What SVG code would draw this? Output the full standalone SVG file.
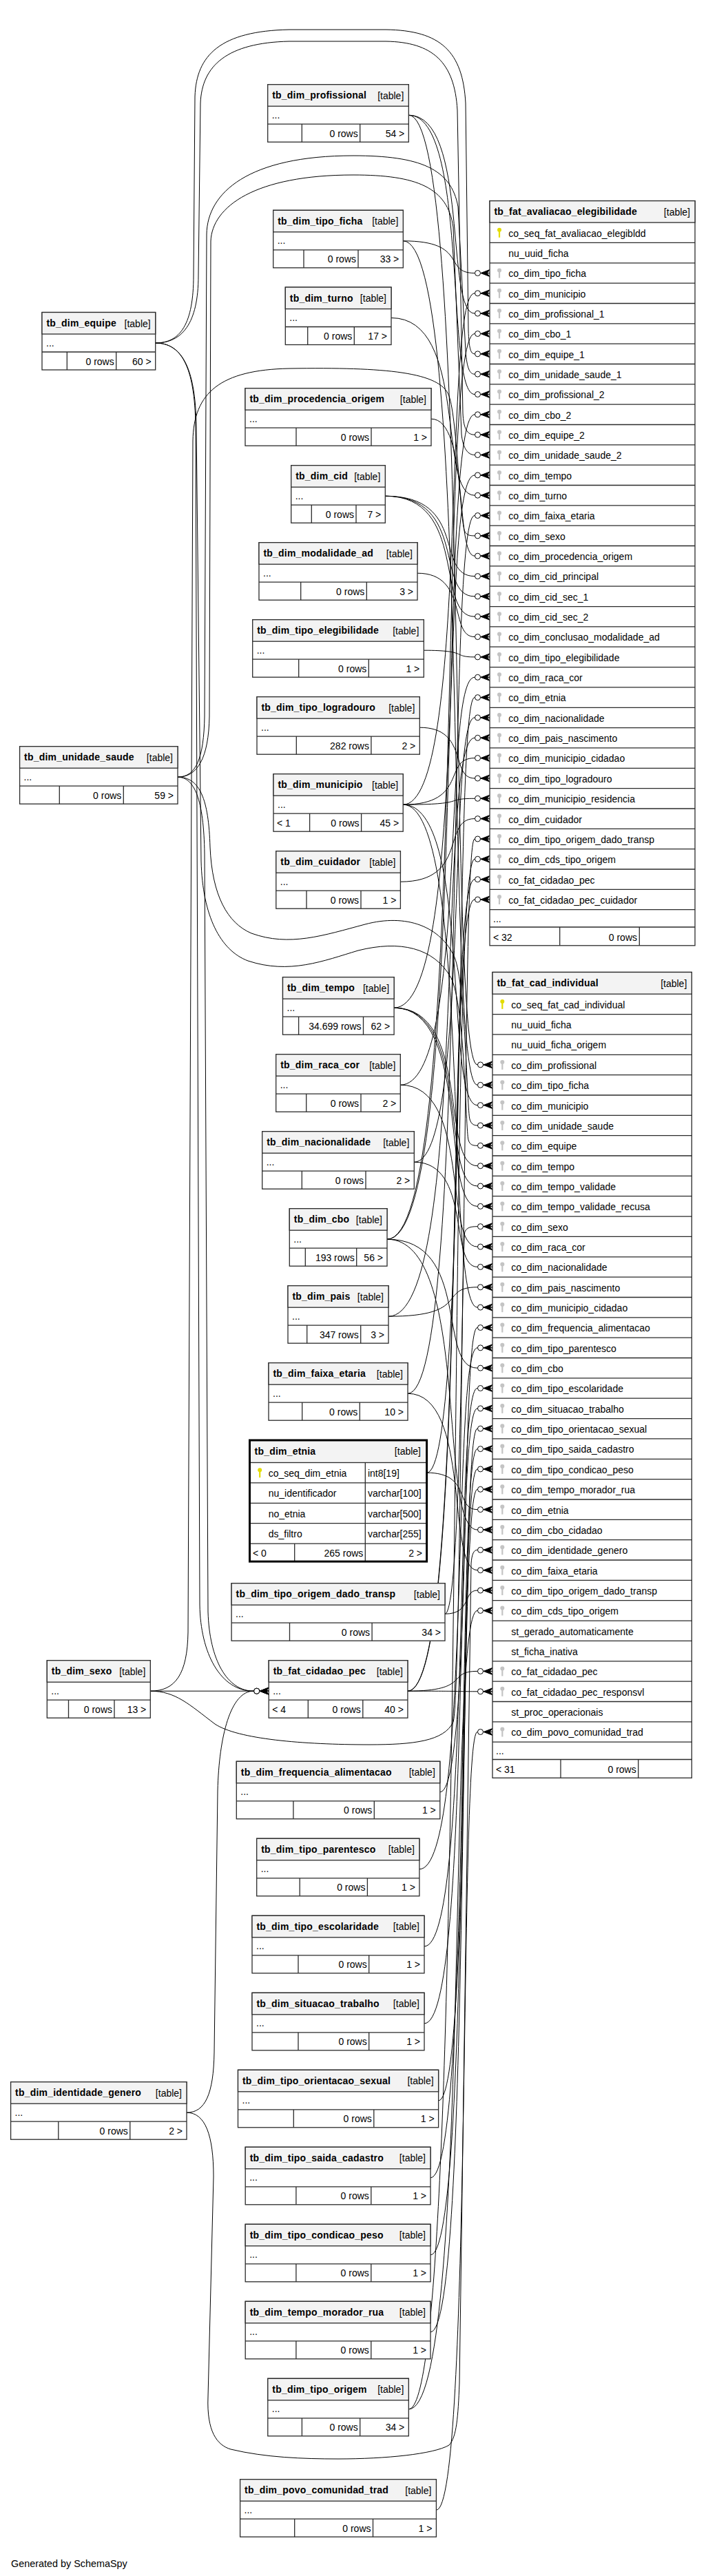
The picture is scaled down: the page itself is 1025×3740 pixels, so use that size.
<svg xmlns="http://www.w3.org/2000/svg" width="1025" height="3740" viewBox="0 0 1025 3740">
<style>
.b{fill:#fff;stroke:#2b2b2b;stroke-width:1.3}
.hd{fill:#f3f3f3;stroke:#2b2b2b;stroke-width:1.3}
.ln{fill:none;stroke:#2b2b2b;stroke-width:1.3}
.bold{fill:none;stroke:#000;stroke-width:3}
.h{font-family:"Liberation Sans",Arial,sans-serif;font-size:14px;font-weight:bold;letter-spacing:0.2px;fill:#000}
.t{font-family:"Liberation Sans",Arial,sans-serif;font-size:14px;fill:#000}
.e{text-anchor:end}
#connectors path{fill:none;stroke:#000;stroke-width:1;marker-end:url(#crow)}
</style>
<defs>
<marker id="crow" markerUnits="userSpaceOnUse" viewBox="-25 -10 30 20" markerWidth="30" markerHeight="20" refX="0" refY="0" orient="auto">
<path d="M-13 0L0 -5L-4 0L0 5ZM-13 0H0" fill="#000" stroke="#000" stroke-width="1"/>
<circle cx="-17.5" cy="0" r="4" fill="#fff" stroke="#000" stroke-width="1"/>
</marker>
<g id="kp"><circle cx="0" cy="-4" r="3" fill="#e3dc00"/><rect x="-1.1" y="-2" width="2.2" height="9" fill="#e3dc00"/></g>
<g id="kf"><circle cx="0" cy="-4" r="3" fill="#c4c4c4"/><rect x="-1.1" y="-2" width="2.2" height="9" fill="#c4c4c4"/></g>
</defs>
<rect width="1025" height="3740" fill="#fff"/>

<g id="connectors">
<!-- to tb_fat_avaliacao_elegibilidade -->
<path d="M585.3 349.8C681 349.8 642.3 396.5 689 396.5L711 396.5"/>
<path d="M585.2 1168.2C681 1168.2 642.3 425.8 689 425.8L711 425.8"/>
<path d="M593.3 167.2C681 167.2 645.9 455.1 689 455.1L711 455.1"/>
<path d="M562 1799.2C681 1799.2 631.8 484.5 689 484.5L711 484.5"/>
<path d="M225.7 498C262 498 281 470 281 400L283 140C285 80 320 45 420 43L560 43C640 44 672 75 676 150L680 480C681 505 683 513.8 689 513.8L711 513.8"/>
<path d="M258 1128.2C285 1128.2 296 1100 297 1040L300 340C301 280 360 226 513 226C610 226 655 245 665 300L676 510C678 535 682 543.2 689 543.2L711 543.2"/>
<path d="M593.3 167.2C681 167.2 645.9 572.5 689 572.5L711 572.5"/>
<path d="M562 1799.2C681 1799.2 631.8 601.8 689 601.8L711 601.8"/>
<path d="M225.7 498C264 498 288 470 288 400L291 150C293 95 330 62 420 60L560 60C628 61 660 90 664 160L672 600C673 622 678 631.2 689 631.2L711 631.2"/>
<path d="M258 1128.2C287 1128.2 303 1100 304 1040L306 350C308 300 370 254 513 254C605 254 650 272 658 330L670 630C672 652 680 660.5 689 660.5L711 660.5"/>
<path d="M572.1 1463.2C681 1463.2 636.4 689.9 689 689.9L711 689.9"/>
<path d="M568 461.5C681 461.5 634.5 719.2 689 719.2L711 719.2"/>
<path d="M592 2023.2C681 2023.2 645.3 748.5 689 748.5L711 748.5"/>
<path d="M218.3 2455.2C255 2455.2 272 2430 273 2370L280 640C281 570 320 537 420 535C560 533 640 540 652 575C664 610 668 760 675 772C678 777 682 777.9 689 777.9L711 777.9"/>
<path d="M626 608.2C681 608.2 660.6 807.2 689 807.2L711 807.2"/>
<path d="M559.3 720.2C681 720.2 630.6 836.6 689 836.6L711 836.6"/>
<path d="M559.3 720.2C681 720.2 630.6 865.9 689 865.9L711 865.9"/>
<path d="M559.3 720.2C681 720.2 630.6 895.2 689 895.2L711 895.2"/>
<path d="M606 832.2C681 832.2 651.6 924.6 689 924.6L711 924.6"/>
<path d="M615.3 944.2C681 944.2 655.8 953.9 689 953.9L711 953.9"/>
<path d="M581.3 1575.2C681 1575.2 640.5 983.3 689 983.3L711 983.3"/>
<path d="M619.6 2138.2C681 2138.2 657.8 1012.6 689 1012.6L711 1012.6"/>
<path d="M601.3 1687.2C681 1687.2 649.5 1041.9 689 1041.9L711 1041.9"/>
<path d="M564 1911.2C681 1911.2 632.7 1071.3 689 1071.3L711 1071.3"/>
<path d="M585.2 1168.2C681 1168.2 642.3 1100.6 689 1100.6L711 1100.6"/>
<path d="M609.3 1056.2C681 1056.2 653.1 1130 689 1130L711 1130"/>
<path d="M585.2 1168.2C681 1168.2 642.3 1159.3 689 1159.3L711 1159.3"/>
<path d="M581.4 1280.2C681 1280.2 640.6 1188.6 689 1188.6L711 1188.6"/>
<path d="M646 2343.2C681 2343.2 669.6 1218 689 1218L711 1218"/>
<path d="M593.3 3497.8C681 3497.8 645.9 1247.3 689 1247.3L711 1247.3"/>
<path d="M591.9 2455.2C681 2455.2 645.3 1276.7 689 1276.7L711 1276.7"/>
<path d="M591.9 2455.2C681 2455.2 645.3 1306 689 1306L711 1306"/>
<!-- to tb_fat_cad_individual -->
<path d="M593.3 167.2C685 167.2 648.1 1545.9 693 1545.9L715 1545.9"/>
<path d="M585.3 349.8C685 349.8 644.5 1575.3 693 1575.3L715 1575.3"/>
<path d="M585.2 1168.2C685 1168.2 644.5 1604.6 693 1604.6L715 1604.6"/>
<path d="M258 1128.2C290 1128.2 303 1160 305 1230C308 1300 330 1340 365 1355C420 1375 470 1358 530 1342C590 1326 640 1345 660 1390C676 1430 678 1610 682 1625C684 1632 688 1634 693 1634L715 1634"/>
<path d="M225.7 498C262 498 284 530 285 620L292 1250C294 1330 320 1380 360 1395C420 1415 470 1395 520 1380C580 1365 630 1375 655 1420C675 1460 676 1640 680 1655C682 1662 686 1663.3 693 1663.3L715 1663.3"/>
<path d="M572.1 1463.2C685 1463.2 638.6 1692.7 693 1692.7L715 1692.7"/>
<path d="M572.1 1463.2C685 1463.2 638.6 1722 693 1722L715 1722"/>
<path d="M572.1 1463.2C685 1463.2 638.6 1751.4 693 1751.4L715 1751.4"/>
<path d="M218.3 2455.2C255 2455.2 275 2475 312 2503C345 2525 440 2533 536 2533C600 2533 645 2528 658 2500C668 2470 670 1800 675 1788C678 1782 684 1780.7 693 1780.7L715 1780.7"/>
<path d="M581.3 1575.2C685 1575.2 642.7 1810.1 693 1810.1L715 1810.1"/>
<path d="M601.3 1687.2C685 1687.2 651.7 1839.4 693 1839.4L715 1839.4"/>
<path d="M564 1911.2C685 1911.2 635 1868.8 693 1868.8L715 1868.8"/>
<path d="M585.2 1168.2C685 1168.2 644.5 1898.1 693 1898.1L715 1898.1"/>
<path d="M638.8 2601.8C685 2601.8 668.6 1927.5 693 1927.5L715 1927.5"/>
<path d="M608.9 2713.8C685 2713.8 655.2 1956.8 693 1956.8L715 1956.8"/>
<path d="M562 1799.2C685 1799.2 634 1986.2 693 1986.2L715 1986.2"/>
<path d="M616 2825.8C685 2825.8 658.3 2015.5 693 2015.5L715 2015.5"/>
<path d="M616 2937.8C685 2937.8 658.3 2044.9 693 2044.9L715 2044.9"/>
<path d="M636.6 3049.8C685 3049.8 667.6 2074.2 693 2074.2L715 2074.2"/>
<path d="M625 3161.8C685 3161.8 662.4 2103.6 693 2103.6L715 2103.6"/>
<path d="M625 3273.8C685 3273.8 662.4 2132.9 693 2132.9L715 2132.9"/>
<path d="M625 3385.8C685 3385.8 662.4 2162.3 693 2162.3L715 2162.3"/>
<path d="M619.6 2138.2C685 2138.2 660 2191.6 693 2191.6L715 2191.6"/>
<path d="M562 1799.2C685 1799.2 634 2221 693 2221L715 2221"/>
<path d="M271 3067.2C298 3067.2 310 3100 310 3160L302 3480C300 3530 315 3550 335 3556C385 3568 440 3570 491 3570C560 3570 630 3563 652 3550C663 3538 665 3510 667 3460L684 2270C685 2256 688 2250.3 693 2250.3L715 2250.3"/>
<path d="M592 2023.2C685 2023.2 647.5 2279.7 693 2279.7L715 2279.7"/>
<path d="M646 2343.2C685 2343.2 671.8 2309 693 2309L715 2309"/>
<path d="M593.3 3497.8C685 3497.8 648.1 2338.4 693 2338.4L715 2338.4"/>
<path d="M591.9 2455.2C685 2455.2 647.5 2426.4 693 2426.4L715 2426.4"/>
<path d="M591.9 2455.2C685 2455.2 647.5 2455.8 693 2455.8L715 2455.8"/>
<path d="M633.4 3644.2C685 3644.2 666.2 2514.5 693 2514.5L715 2514.5"/>
<!-- to tb_fat_cidadao_pec -->
<path d="M218.3 2455.2L390.2 2455.2"/>
<path d="M225.7 498C262 498 283 530 284 620L290 2330C291 2400 320 2455.2 368 2455.2L390.2 2455.2"/>
<path d="M258 1128.2C282 1128.2 296 1160 297 1240L302 2340C304 2410 330 2455.2 368 2455.2L390.2 2455.2"/>
<path d="M271 3067.2C298 3067.2 310 3040 311 2980L316 2600C318 2520 335 2455.2 368 2455.2L390.2 2455.2"/>
</g>

<g id="tb_dim_profissional"><rect class="b" x="388.7" y="122.7" width="204.6" height="83.5"/><rect class="hd" x="388.7" y="122.7" width="204.6" height="31.5"/><path class="ln" d="M388.7 180.2H593.3M438.3 180.2V206.2M522.7 180.2V206.2"/><text class="h" x="395.2" y="143.2">tb_dim_profissional</text><text class="t e" x="586.3" y="143.7">[table]</text><text class="t" x="394.7" y="171.7">...</text><text class="t e" x="519.7" y="198.7">0 rows</text><text class="t e" x="587.3" y="198.7">54 &gt;</text></g>

<g id="tb_dim_tipo_ficha"><rect class="b" x="396.7" y="305.3" width="188.6" height="83.5"/><rect class="hd" x="396.7" y="305.3" width="188.6" height="31.5"/><path class="ln" d="M396.7 362.8H585.3M441 362.8V388.8M520 362.8V388.8"/><text class="h" x="403.2" y="325.8">tb_dim_tipo_ficha</text><text class="t e" x="578.3" y="326.3">[table]</text><text class="t" x="402.7" y="354.3">...</text><text class="t e" x="517" y="381.3">0 rows</text><text class="t e" x="579.3" y="381.3">33 &gt;</text></g>

<g id="tb_dim_turno"><rect class="b" x="414.3" y="417" width="153.7" height="83.5"/><rect class="hd" x="414.3" y="417" width="153.7" height="31.5"/><path class="ln" d="M414.3 474.5H568M446.7 474.5V500.5M514.3 474.5V500.5"/><text class="h" x="420.8" y="437.5">tb_dim_turno</text><text class="t e" x="561" y="438">[table]</text><text class="t" x="420.3" y="466">...</text><text class="t e" x="511.3" y="493">0 rows</text><text class="t e" x="562" y="493">17 &gt;</text></g>

<g id="tb_dim_equipe"><rect class="b" x="61" y="453.5" width="164.7" height="83.5"/><rect class="hd" x="61" y="453.5" width="164.7" height="31.5"/><path class="ln" d="M61 511H225.7M97.3 511V537M168.7 511V537"/><text class="h" x="67.5" y="474">tb_dim_equipe</text><text class="t e" x="218.7" y="474.5">[table]</text><text class="t" x="67" y="502.5">...</text><text class="t e" x="165.7" y="529.5">0 rows</text><text class="t e" x="219.7" y="529.5">60 &gt;</text></g>

<g id="tb_dim_procedencia_origem"><rect class="b" x="356" y="563.7" width="270" height="83.5"/><rect class="hd" x="356" y="563.7" width="270" height="31.5"/><path class="ln" d="M356 621.2H626M430 621.2V647.2M539 621.2V647.2"/><text class="h" x="362.5" y="584.2">tb_dim_procedencia_origem</text><text class="t e" x="619" y="584.7">[table]</text><text class="t" x="362" y="612.7">...</text><text class="t e" x="536" y="639.7">0 rows</text><text class="t e" x="620" y="639.7">1 &gt;</text></g>

<g id="tb_dim_cid"><rect class="b" x="422.7" y="675.7" width="136.6" height="83.5"/><rect class="hd" x="422.7" y="675.7" width="136.6" height="31.5"/><path class="ln" d="M422.7 733.2H559.3M452.3 733.2V759.2M517 733.2V759.2"/><text class="h" x="429.2" y="696.2">tb_dim_cid</text><text class="t e" x="552.3" y="696.7">[table]</text><text class="t" x="428.7" y="724.7">...</text><text class="t e" x="514" y="751.7">0 rows</text><text class="t e" x="553.3" y="751.7">7 &gt;</text></g>

<g id="tb_dim_modalidade_ad"><rect class="b" x="376" y="787.7" width="230" height="83.5"/><rect class="hd" x="376" y="787.7" width="230" height="31.5"/><path class="ln" d="M376 845.2H606M436.7 845.2V871.2M532.3 845.2V871.2"/><text class="h" x="382.5" y="808.2">tb_dim_modalidade_ad</text><text class="t e" x="599" y="808.7">[table]</text><text class="t" x="382" y="836.7">...</text><text class="t e" x="529.3" y="863.7">0 rows</text><text class="t e" x="600" y="863.7">3 &gt;</text></g>

<g id="tb_dim_tipo_elegibilidade"><rect class="b" x="366.7" y="899.7" width="248.6" height="83.5"/><rect class="hd" x="366.7" y="899.7" width="248.6" height="31.5"/><path class="ln" d="M366.7 957.2H615.3M433.7 957.2V983.2M535.3 957.2V983.2"/><text class="h" x="373.2" y="920.2">tb_dim_tipo_elegibilidade</text><text class="t e" x="608.3" y="920.7">[table]</text><text class="t" x="372.7" y="948.7">...</text><text class="t e" x="532.3" y="975.7">0 rows</text><text class="t e" x="609.3" y="975.7">1 &gt;</text></g>

<g id="tb_dim_tipo_logradouro"><rect class="b" x="373" y="1011.7" width="236.3" height="83.5"/><rect class="hd" x="373" y="1011.7" width="236.3" height="31.5"/><path class="ln" d="M373 1069.2H609.3M430.3 1069.2V1095.2M538.9 1069.2V1095.2"/><text class="h" x="379.5" y="1032.2">tb_dim_tipo_logradouro</text><text class="t e" x="602.3" y="1032.7">[table]</text><text class="t" x="379" y="1060.7">...</text><text class="t e" x="535.9" y="1087.7">282 rows</text><text class="t e" x="603.3" y="1087.7">2 &gt;</text></g>

<g id="tb_dim_unidade_saude"><rect class="b" x="28.6" y="1083.7" width="229.4" height="83.5"/><rect class="hd" x="28.6" y="1083.7" width="229.4" height="31.5"/><path class="ln" d="M28.6 1141.2H258M86.3 1141.2V1167.2M179.3 1141.2V1167.2"/><text class="h" x="35.1" y="1104.2">tb_dim_unidade_saude</text><text class="t e" x="251" y="1104.7">[table]</text><text class="t" x="34.6" y="1132.7">...</text><text class="t e" x="176.3" y="1159.7">0 rows</text><text class="t e" x="252" y="1159.7">59 &gt;</text></g>

<g id="tb_dim_municipio"><rect class="b" x="397" y="1123.7" width="188.2" height="83.5"/><rect class="hd" x="397" y="1123.7" width="188.2" height="31.5"/><path class="ln" d="M397 1181.2H585.2M449.6 1181.2V1207.2M524.6 1181.2V1207.2"/><text class="h" x="403.5" y="1144.2">tb_dim_municipio</text><text class="t e" x="578.2" y="1144.7">[table]</text><text class="t" x="403" y="1172.7">...</text><text class="t" x="402" y="1199.7">&lt; 1</text><text class="t e" x="521.6" y="1199.7">0 rows</text><text class="t e" x="579.2" y="1199.7">45 &gt;</text></g>

<g id="tb_dim_cuidador"><rect class="b" x="400.8" y="1235.7" width="180.6" height="83.5"/><rect class="hd" x="400.8" y="1235.7" width="180.6" height="31.5"/><path class="ln" d="M400.8 1293.2H581.4M445 1293.2V1319.2M524 1293.2V1319.2"/><text class="h" x="407.3" y="1256.2">tb_dim_cuidador</text><text class="t e" x="574.4" y="1256.7">[table]</text><text class="t" x="406.8" y="1284.7">...</text><text class="t e" x="521" y="1311.7">0 rows</text><text class="t e" x="575.4" y="1311.7">1 &gt;</text></g>

<g id="tb_dim_tempo"><rect class="b" x="410.5" y="1418.7" width="161.6" height="83.5"/><rect class="hd" x="410.5" y="1418.7" width="161.6" height="31.5"/><path class="ln" d="M410.5 1476.2H572.1M433.6 1476.2V1502.2M527.5 1476.2V1502.2"/><text class="h" x="417" y="1439.2">tb_dim_tempo</text><text class="t e" x="565.1" y="1439.7">[table]</text><text class="t" x="416.5" y="1467.7">...</text><text class="t e" x="524.5" y="1494.7">34.699 rows</text><text class="t e" x="566.1" y="1494.7">62 &gt;</text></g>

<g id="tb_dim_raca_cor"><rect class="b" x="400.7" y="1530.7" width="180.6" height="83.5"/><rect class="hd" x="400.7" y="1530.7" width="180.6" height="31.5"/><path class="ln" d="M400.7 1588.2H581.3M444.7 1588.2V1614.2M524 1588.2V1614.2"/><text class="h" x="407.2" y="1551.2">tb_dim_raca_cor</text><text class="t e" x="574.3" y="1551.7">[table]</text><text class="t" x="406.7" y="1579.7">...</text><text class="t e" x="521" y="1606.7">0 rows</text><text class="t e" x="575.3" y="1606.7">2 &gt;</text></g>

<g id="tb_dim_nacionalidade"><rect class="b" x="380.7" y="1642.7" width="220.6" height="83.5"/><rect class="hd" x="380.7" y="1642.7" width="220.6" height="31.5"/><path class="ln" d="M380.7 1700.2H601.3M438.3 1700.2V1726.2M531 1700.2V1726.2"/><text class="h" x="387.2" y="1663.2">tb_dim_nacionalidade</text><text class="t e" x="594.3" y="1663.7">[table]</text><text class="t" x="386.7" y="1691.7">...</text><text class="t e" x="528" y="1718.7">0 rows</text><text class="t e" x="595.3" y="1718.7">2 &gt;</text></g>

<g id="tb_dim_cbo"><rect class="b" x="420.3" y="1754.7" width="141.7" height="83.5"/><rect class="hd" x="420.3" y="1754.7" width="141.7" height="31.5"/><path class="ln" d="M420.3 1812.2H562M443.3 1812.2V1838.2M517.7 1812.2V1838.2"/><text class="h" x="426.8" y="1775.2">tb_dim_cbo</text><text class="t e" x="555" y="1775.7">[table]</text><text class="t" x="426.3" y="1803.7">...</text><text class="t e" x="514.7" y="1830.7">193 rows</text><text class="t e" x="556" y="1830.7">56 &gt;</text></g>

<g id="tb_dim_pais"><rect class="b" x="418" y="1866.7" width="146" height="83.5"/><rect class="hd" x="418" y="1866.7" width="146" height="31.5"/><path class="ln" d="M418 1924.2H564M445.7 1924.2V1950.2M523.7 1924.2V1950.2"/><text class="h" x="424.5" y="1887.2">tb_dim_pais</text><text class="t e" x="557" y="1887.7">[table]</text><text class="t" x="424" y="1915.7">...</text><text class="t e" x="520.7" y="1942.7">347 rows</text><text class="t e" x="558" y="1942.7">3 &gt;</text></g>

<g id="tb_dim_faixa_etaria"><rect class="b" x="390" y="1978.7" width="202" height="83.5"/><rect class="hd" x="390" y="1978.7" width="202" height="31.5"/><path class="ln" d="M390 2036.2H592M438.7 2036.2V2062.2M522.3 2036.2V2062.2"/><text class="h" x="396.5" y="1999.2">tb_dim_faixa_etaria</text><text class="t e" x="585" y="1999.7">[table]</text><text class="t" x="396" y="2027.7">...</text><text class="t e" x="519.3" y="2054.7">0 rows</text><text class="t e" x="586" y="2054.7">10 &gt;</text></g>

<g id="tb_dim_etnia"><rect class="b" x="362.5" y="2091" width="257.1" height="176.1"/><rect class="hd" x="362.5" y="2091" width="257.1" height="32.5"/><path class="ln" d="M362.5 2152.9H619.6M362.5 2182.3H619.6M362.5 2211.7H619.6M362.5 2241.1H619.6M530.3 2123.5V2267.1M427.7 2241.1V2267.1"/><rect class="bold" x="362.5" y="2091" width="257.1" height="176.1"/><text class="h" x="369.6" y="2111.5">tb_dim_etnia</text><text class="t e" x="611" y="2112">[table]</text><use href="#kp" x="377.2" y="2138.2"/><text class="t" x="389.7" y="2144">co_seq_dim_etnia</text><text class="t" x="533.9" y="2144">int8[19]</text><text class="t" x="389.7" y="2173.4">nu_identificador</text><text class="t" x="533.9" y="2173.4">varchar[100]</text><text class="t" x="389.7" y="2202.8">no_etnia</text><text class="t" x="533.9" y="2202.8">varchar[500]</text><text class="t" x="389.7" y="2232.2">ds_filtro</text><text class="t" x="533.9" y="2232.2">varchar[255]</text><text class="t" x="367" y="2260">&lt; 0</text><text class="t e" x="527.3" y="2260">265 rows</text><text class="t e" x="613" y="2260">2 &gt;</text></g>

<g id="tb_dim_tipo_origem_dado_transp"><rect class="b" x="336.1" y="2298.7" width="309.9" height="83.5"/><rect class="hd" x="336.1" y="2298.7" width="309.9" height="31.5"/><path class="ln" d="M336.1 2356.2H646M420.5 2356.2V2382.2M540.1 2356.2V2382.2"/><text class="h" x="342.6" y="2319.2">tb_dim_tipo_origem_dado_transp</text><text class="t e" x="639" y="2319.7">[table]</text><text class="t" x="342.1" y="2347.7">...</text><text class="t e" x="537.1" y="2374.7">0 rows</text><text class="t e" x="640" y="2374.7">34 &gt;</text></g>

<g id="tb_dim_sexo"><rect class="b" x="68.3" y="2410.7" width="150" height="83.5"/><rect class="hd" x="68.3" y="2410.7" width="150" height="31.5"/><path class="ln" d="M68.3 2468.2H218.3M99.5 2468.2V2494.2M166 2468.2V2494.2"/><text class="h" x="74.8" y="2431.2">tb_dim_sexo</text><text class="t e" x="211.3" y="2431.7">[table]</text><text class="t" x="74.3" y="2459.7">...</text><text class="t e" x="163" y="2486.7">0 rows</text><text class="t e" x="212.3" y="2486.7">13 &gt;</text></g>

<g id="tb_fat_cidadao_pec"><rect class="b" x="390.2" y="2410.7" width="201.7" height="83.5"/><rect class="hd" x="390.2" y="2410.7" width="201.7" height="31.5"/><path class="ln" d="M390.2 2468.2H591.9M447.3 2468.2V2494.2M526.8 2468.2V2494.2"/><text class="h" x="396.7" y="2431.2">tb_fat_cidadao_pec</text><text class="t e" x="584.9" y="2431.7">[table]</text><text class="t" x="396.2" y="2459.7">...</text><text class="t" x="395.2" y="2486.7">&lt; 4</text><text class="t e" x="523.8" y="2486.7">0 rows</text><text class="t e" x="585.9" y="2486.7">40 &gt;</text></g>

<g id="tb_dim_frequencia_alimentacao"><rect class="b" x="343.3" y="2557.3" width="295.5" height="83.5"/><rect class="hd" x="343.3" y="2557.3" width="295.5" height="31.5"/><path class="ln" d="M343.3 2614.8H638.8M425.9 2614.8V2640.8M543.3 2614.8V2640.8"/><text class="h" x="349.8" y="2577.8">tb_dim_frequencia_alimentacao</text><text class="t e" x="631.8" y="2578.3">[table]</text><text class="t" x="349.3" y="2606.3">...</text><text class="t e" x="540.3" y="2633.3">0 rows</text><text class="t e" x="632.8" y="2633.3">1 &gt;</text></g>

<g id="tb_dim_tipo_parentesco"><rect class="b" x="372.7" y="2669.3" width="236.2" height="83.5"/><rect class="hd" x="372.7" y="2669.3" width="236.2" height="31.5"/><path class="ln" d="M372.7 2726.8H608.9M435.2 2726.8V2752.8M533.4 2726.8V2752.8"/><text class="h" x="379.2" y="2689.8">tb_dim_tipo_parentesco</text><text class="t e" x="601.9" y="2690.3">[table]</text><text class="t" x="378.7" y="2718.3">...</text><text class="t e" x="530.4" y="2745.3">0 rows</text><text class="t e" x="602.9" y="2745.3">1 &gt;</text></g>

<g id="tb_dim_tipo_escolaridade"><rect class="b" x="366" y="2781.3" width="250" height="83.5"/><rect class="hd" x="366" y="2781.3" width="250" height="31.5"/><path class="ln" d="M366 2838.8H616M433 2838.8V2864.8M535.7 2838.8V2864.8"/><text class="h" x="372.5" y="2801.8">tb_dim_tipo_escolaridade</text><text class="t e" x="609" y="2802.3">[table]</text><text class="t" x="372" y="2830.3">...</text><text class="t e" x="532.7" y="2857.3">0 rows</text><text class="t e" x="610" y="2857.3">1 &gt;</text></g>

<g id="tb_dim_situacao_trabalho"><rect class="b" x="366" y="2893.3" width="250" height="83.5"/><rect class="hd" x="366" y="2893.3" width="250" height="31.5"/><path class="ln" d="M366 2950.8H616M433 2950.8V2976.8M535.7 2950.8V2976.8"/><text class="h" x="372.5" y="2913.8">tb_dim_situacao_trabalho</text><text class="t e" x="609" y="2914.3">[table]</text><text class="t" x="372" y="2942.3">...</text><text class="t e" x="532.7" y="2969.3">0 rows</text><text class="t e" x="610" y="2969.3">1 &gt;</text></g>

<g id="tb_dim_identidade_genero"><rect class="b" x="15.6" y="3022.7" width="255.4" height="83.5"/><rect class="hd" x="15.6" y="3022.7" width="255.4" height="31.5"/><path class="ln" d="M15.6 3080.2H271M84.8 3080.2V3106.2M188.8 3080.2V3106.2"/><text class="h" x="22.1" y="3043.2">tb_dim_identidade_genero</text><text class="t e" x="264" y="3043.7">[table]</text><text class="t" x="21.6" y="3071.7">...</text><text class="t e" x="185.8" y="3098.7">0 rows</text><text class="t e" x="265" y="3098.7">2 &gt;</text></g>

<g id="tb_dim_tipo_orientacao_sexual"><rect class="b" x="345.5" y="3005.3" width="291.1" height="83.5"/><rect class="hd" x="345.5" y="3005.3" width="291.1" height="31.5"/><path class="ln" d="M345.5 3062.8H636.6M426.3 3062.8V3088.8M542.8 3062.8V3088.8"/><text class="h" x="352" y="3025.8">tb_dim_tipo_orientacao_sexual</text><text class="t e" x="629.6" y="3026.3">[table]</text><text class="t" x="351.5" y="3054.3">...</text><text class="t e" x="539.8" y="3081.3">0 rows</text><text class="t e" x="630.6" y="3081.3">1 &gt;</text></g>

<g id="tb_dim_tipo_saida_cadastro"><rect class="b" x="356.2" y="3117.3" width="268.8" height="83.5"/><rect class="hd" x="356.2" y="3117.3" width="268.8" height="31.5"/><path class="ln" d="M356.2 3174.8H625M429.9 3174.8V3200.8M538.8 3174.8V3200.8"/><text class="h" x="362.7" y="3137.8">tb_dim_tipo_saida_cadastro</text><text class="t e" x="618" y="3138.3">[table]</text><text class="t" x="362.2" y="3166.3">...</text><text class="t e" x="535.8" y="3193.3">0 rows</text><text class="t e" x="619" y="3193.3">1 &gt;</text></g>

<g id="tb_dim_tipo_condicao_peso"><rect class="b" x="356.2" y="3229.3" width="268.8" height="83.5"/><rect class="hd" x="356.2" y="3229.3" width="268.8" height="31.5"/><path class="ln" d="M356.2 3286.8H625M429.9 3286.8V3312.8M538.8 3286.8V3312.8"/><text class="h" x="362.7" y="3249.8">tb_dim_tipo_condicao_peso</text><text class="t e" x="618" y="3250.3">[table]</text><text class="t" x="362.2" y="3278.3">...</text><text class="t e" x="535.8" y="3305.3">0 rows</text><text class="t e" x="619" y="3305.3">1 &gt;</text></g>

<g id="tb_dim_tempo_morador_rua"><rect class="b" x="356.2" y="3341.3" width="268.8" height="83.5"/><rect class="hd" x="356.2" y="3341.3" width="268.8" height="31.5"/><path class="ln" d="M356.2 3398.8H625M429.9 3398.8V3424.8M538.8 3398.8V3424.8"/><text class="h" x="362.7" y="3361.8">tb_dim_tempo_morador_rua</text><text class="t e" x="618" y="3362.3">[table]</text><text class="t" x="362.2" y="3390.3">...</text><text class="t e" x="535.8" y="3417.3">0 rows</text><text class="t e" x="619" y="3417.3">1 &gt;</text></g>

<g id="tb_dim_tipo_origem"><rect class="b" x="388.8" y="3453.3" width="204.5" height="83.5"/><rect class="hd" x="388.8" y="3453.3" width="204.5" height="31.5"/><path class="ln" d="M388.8 3510.8H593.3M438.4 3510.8V3536.8M522.7 3510.8V3536.8"/><text class="h" x="395.3" y="3473.8">tb_dim_tipo_origem</text><text class="t e" x="586.3" y="3474.3">[table]</text><text class="t" x="394.8" y="3502.3">...</text><text class="t e" x="519.7" y="3529.3">0 rows</text><text class="t e" x="587.3" y="3529.3">34 &gt;</text></g>

<g id="tb_dim_povo_comunidad_trad"><rect class="b" x="348.6" y="3599.7" width="284.8" height="83.5"/><rect class="hd" x="348.6" y="3599.7" width="284.8" height="31.5"/><path class="ln" d="M348.6 3657.2H633.4M427.7 3657.2V3683.2M541.5 3657.2V3683.2"/><text class="h" x="355.1" y="3620.2">tb_dim_povo_comunidad_trad</text><text class="t e" x="626.4" y="3620.7">[table]</text><text class="t" x="354.6" y="3648.7">...</text><text class="t e" x="538.5" y="3675.7">0 rows</text><text class="t e" x="627.4" y="3675.7">1 &gt;</text></g>

<g id="tb_fat_avaliacao_elegibilidade">
<rect class="b" x="711" y="291.6" width="298" height="1081.2"/>
<rect class="hd" x="711" y="291.6" width="298" height="31.5"/>
<path class="ln" d="M711 352.4H1009M711 381.8H1009M711 411.1H1009M711 440.5H1009M711 469.8H1009M711 499.1H1009M711 528.5H1009M711 557.8H1009M711 587.2H1009M711 616.5H1009M711 645.8H1009M711 675.2H1009M711 704.5H1009M711 733.9H1009M711 763.2H1009M711 792.5H1009M711 821.9H1009M711 851.2H1009M711 880.6H1009M711 909.9H1009M711 939.2H1009M711 968.6H1009M711 997.9H1009M711 1027.3H1009M711 1056.6H1009M711 1085.9H1009M711 1115.3H1009M711 1144.6H1009M711 1174H1009M711 1203.3H1009M711 1232.6H1009M711 1262H1009M711 1291.3H1009M711 1320.7H1009M711 1346H1009M812.7 1346V1372.8M928.3 1346V1372.8"/>
<text class="h" x="717.5" y="312">tb_fat_avaliacao_elegibilidade</text><text class="t e" x="1002" y="312.5">[table]</text>
<use href="#kp" x="725" y="337.8"/>
<use href="#kf" x="725" y="396.5"/><use href="#kf" x="725" y="425.8"/><use href="#kf" x="725" y="455.1"/><use href="#kf" x="725" y="484.5"/><use href="#kf" x="725" y="513.8"/><use href="#kf" x="725" y="543.2"/><use href="#kf" x="725" y="572.5"/><use href="#kf" x="725" y="601.8"/><use href="#kf" x="725" y="631.2"/><use href="#kf" x="725" y="660.5"/><use href="#kf" x="725" y="689.9"/><use href="#kf" x="725" y="719.2"/><use href="#kf" x="725" y="748.5"/><use href="#kf" x="725" y="777.9"/><use href="#kf" x="725" y="807.2"/><use href="#kf" x="725" y="836.6"/><use href="#kf" x="725" y="865.9"/><use href="#kf" x="725" y="895.2"/><use href="#kf" x="725" y="924.6"/><use href="#kf" x="725" y="953.9"/><use href="#kf" x="725" y="983.3"/><use href="#kf" x="725" y="1012.6"/><use href="#kf" x="725" y="1041.9"/><use href="#kf" x="725" y="1071.3"/><use href="#kf" x="725" y="1100.6"/><use href="#kf" x="725" y="1130"/><use href="#kf" x="725" y="1159.3"/><use href="#kf" x="725" y="1188.6"/><use href="#kf" x="725" y="1218"/><use href="#kf" x="725" y="1247.3"/><use href="#kf" x="725" y="1276.7"/><use href="#kf" x="725" y="1306"/>
<text class="t" x="738.3" y="343.6">co_seq_fat_avaliacao_elegibldd</text>
<text class="t" x="738.3" y="372.9">nu_uuid_ficha</text>
<text class="t" x="738.3" y="402.3">co_dim_tipo_ficha</text>
<text class="t" x="738.3" y="431.6">co_dim_municipio</text>
<text class="t" x="738.3" y="461">co_dim_profissional_1</text>
<text class="t" x="738.3" y="490.3">co_dim_cbo_1</text>
<text class="t" x="738.3" y="519.6">co_dim_equipe_1</text>
<text class="t" x="738.3" y="549">co_dim_unidade_saude_1</text>
<text class="t" x="738.3" y="578.3">co_dim_profissional_2</text>
<text class="t" x="738.3" y="607.7">co_dim_cbo_2</text>
<text class="t" x="738.3" y="637">co_dim_equipe_2</text>
<text class="t" x="738.3" y="666.3">co_dim_unidade_saude_2</text>
<text class="t" x="738.3" y="695.7">co_dim_tempo</text>
<text class="t" x="738.3" y="725">co_dim_turno</text>
<text class="t" x="738.3" y="754.4">co_dim_faixa_etaria</text>
<text class="t" x="738.3" y="783.7">co_dim_sexo</text>
<text class="t" x="738.3" y="813">co_dim_procedencia_origem</text>
<text class="t" x="738.3" y="842.4">co_dim_cid_principal</text>
<text class="t" x="738.3" y="871.7">co_dim_cid_sec_1</text>
<text class="t" x="738.3" y="901.1">co_dim_cid_sec_2</text>
<text class="t" x="738.3" y="930.4">co_dim_conclusao_modalidade_ad</text>
<text class="t" x="738.3" y="959.7">co_dim_tipo_elegibilidade</text>
<text class="t" x="738.3" y="989.1">co_dim_raca_cor</text>
<text class="t" x="738.3" y="1018.4">co_dim_etnia</text>
<text class="t" x="738.3" y="1047.8">co_dim_nacionalidade</text>
<text class="t" x="738.3" y="1077.1">co_dim_pais_nascimento</text>
<text class="t" x="738.3" y="1106.4">co_dim_municipio_cidadao</text>
<text class="t" x="738.3" y="1135.8">co_dim_tipo_logradouro</text>
<text class="t" x="738.3" y="1165.1">co_dim_municipio_residencia</text>
<text class="t" x="738.3" y="1194.5">co_dim_cuidador</text>
<text class="t" x="738.3" y="1223.8">co_dim_tipo_origem_dado_transp</text>
<text class="t" x="738.3" y="1253.1">co_dim_cds_tipo_origem</text>
<text class="t" x="738.3" y="1282.5">co_fat_cidadao_pec</text>
<text class="t" x="738.3" y="1311.8">co_fat_cidadao_pec_cuidador</text>
<text class="t" x="716" y="1339">...</text>
<text class="t" x="716" y="1366">&lt; 32</text>
<text class="t e" x="925" y="1366">0 rows</text>
</g>

<g id="tb_fat_cad_individual">
<rect class="b" x="715" y="1411.5" width="289.3" height="1169.8"/>
<rect class="hd" x="715" y="1411.5" width="289.3" height="31.7"/>
<path class="ln" d="M715 1472.6H1004.3M715 1501.9H1004.3M715 1531.3H1004.3M715 1560.6H1004.3M715 1590H1004.3M715 1619.3H1004.3M715 1648.7H1004.3M715 1678H1004.3M715 1707.4H1004.3M715 1736.7H1004.3M715 1766.1H1004.3M715 1795.4H1004.3M715 1824.8H1004.3M715 1854.1H1004.3M715 1883.5H1004.3M715 1912.8H1004.3M715 1942.2H1004.3M715 1971.5H1004.3M715 2000.9H1004.3M715 2030.2H1004.3M715 2059.6H1004.3M715 2088.9H1004.3M715 2118.3H1004.3M715 2147.6H1004.3M715 2177H1004.3M715 2206.3H1004.3M715 2235.7H1004.3M715 2265H1004.3M715 2294.4H1004.3M715 2323.7H1004.3M715 2353.1H1004.3M715 2382.4H1004.3M715 2411.8H1004.3M715 2441.1H1004.3M715 2470.5H1004.3M715 2499.8H1004.3M715 2529.2H1004.3M715 2554.5H1004.3M814 2554.5V2581.3M926.7 2554.5V2581.3"/>
<text class="h" x="721.5" y="1432">tb_fat_cad_individual</text><text class="t e" x="997.3" y="1432.5">[table]</text>
<use href="#kp" x="729.3" y="1457.9"/>
<use href="#kf" x="729.3" y="1545.9"/><use href="#kf" x="729.3" y="1575.3"/><use href="#kf" x="729.3" y="1604.6"/><use href="#kf" x="729.3" y="1634"/><use href="#kf" x="729.3" y="1663.3"/><use href="#kf" x="729.3" y="1692.7"/><use href="#kf" x="729.3" y="1722"/><use href="#kf" x="729.3" y="1751.4"/><use href="#kf" x="729.3" y="1780.7"/><use href="#kf" x="729.3" y="1810.1"/><use href="#kf" x="729.3" y="1839.4"/><use href="#kf" x="729.3" y="1868.8"/><use href="#kf" x="729.3" y="1898.1"/><use href="#kf" x="729.3" y="1927.5"/><use href="#kf" x="729.3" y="1956.8"/><use href="#kf" x="729.3" y="1986.2"/><use href="#kf" x="729.3" y="2015.5"/><use href="#kf" x="729.3" y="2044.9"/><use href="#kf" x="729.3" y="2074.2"/><use href="#kf" x="729.3" y="2103.6"/><use href="#kf" x="729.3" y="2132.9"/><use href="#kf" x="729.3" y="2162.3"/><use href="#kf" x="729.3" y="2191.6"/><use href="#kf" x="729.3" y="2221"/><use href="#kf" x="729.3" y="2250.3"/><use href="#kf" x="729.3" y="2279.7"/><use href="#kf" x="729.3" y="2309"/><use href="#kf" x="729.3" y="2338.4"/><use href="#kf" x="729.3" y="2426.4"/><use href="#kf" x="729.3" y="2455.8"/><use href="#kf" x="729.3" y="2514.5"/>
<text class="t" x="742.3" y="1463.7">co_seq_fat_cad_individual</text>
<text class="t" x="742.3" y="1493.1">nu_uuid_ficha</text>
<text class="t" x="742.3" y="1522.4">nu_uuid_ficha_origem</text>
<text class="t" x="742.3" y="1551.8">co_dim_profissional</text>
<text class="t" x="742.3" y="1581.1">co_dim_tipo_ficha</text>
<text class="t" x="742.3" y="1610.5">co_dim_municipio</text>
<text class="t" x="742.3" y="1639.8">co_dim_unidade_saude</text>
<text class="t" x="742.3" y="1669.2">co_dim_equipe</text>
<text class="t" x="742.3" y="1698.5">co_dim_tempo</text>
<text class="t" x="742.3" y="1727.9">co_dim_tempo_validade</text>
<text class="t" x="742.3" y="1757.2">co_dim_tempo_validade_recusa</text>
<text class="t" x="742.3" y="1786.6">co_dim_sexo</text>
<text class="t" x="742.3" y="1815.9">co_dim_raca_cor</text>
<text class="t" x="742.3" y="1845.3">co_dim_nacionalidade</text>
<text class="t" x="742.3" y="1874.6">co_dim_pais_nascimento</text>
<text class="t" x="742.3" y="1904">co_dim_municipio_cidadao</text>
<text class="t" x="742.3" y="1933.3">co_dim_frequencia_alimentacao</text>
<text class="t" x="742.3" y="1962.7">co_dim_tipo_parentesco</text>
<text class="t" x="742.3" y="1992">co_dim_cbo</text>
<text class="t" x="742.3" y="2021.4">co_dim_tipo_escolaridade</text>
<text class="t" x="742.3" y="2050.7">co_dim_situacao_trabalho</text>
<text class="t" x="742.3" y="2080.1">co_dim_tipo_orientacao_sexual</text>
<text class="t" x="742.3" y="2109.4">co_dim_tipo_saida_cadastro</text>
<text class="t" x="742.3" y="2138.8">co_dim_tipo_condicao_peso</text>
<text class="t" x="742.3" y="2168.1">co_dim_tempo_morador_rua</text>
<text class="t" x="742.3" y="2197.5">co_dim_etnia</text>
<text class="t" x="742.3" y="2226.8">co_dim_cbo_cidadao</text>
<text class="t" x="742.3" y="2256.2">co_dim_identidade_genero</text>
<text class="t" x="742.3" y="2285.5">co_dim_faixa_etaria</text>
<text class="t" x="742.3" y="2314.9">co_dim_tipo_origem_dado_transp</text>
<text class="t" x="742.3" y="2344.2">co_dim_cds_tipo_origem</text>
<text class="t" x="742.3" y="2373.6">st_gerado_automaticamente</text>
<text class="t" x="742.3" y="2402.9">st_ficha_inativa</text>
<text class="t" x="742.3" y="2432.3">co_fat_cidadao_pec</text>
<text class="t" x="742.3" y="2461.6">co_fat_cidadao_pec_responsvl</text>
<text class="t" x="742.3" y="2491">st_proc_operacionais</text>
<text class="t" x="742.3" y="2520.3">co_dim_povo_comunidad_trad</text>
<text class="t" x="720" y="2547">...</text>
<text class="t" x="720" y="2574">&lt; 31</text>
<text class="t e" x="923.7" y="2574">0 rows</text>
</g>

<text class="t" x="16" y="3727" style="font-size:14.4px">Generated by SchemaSpy</text>
</svg>
